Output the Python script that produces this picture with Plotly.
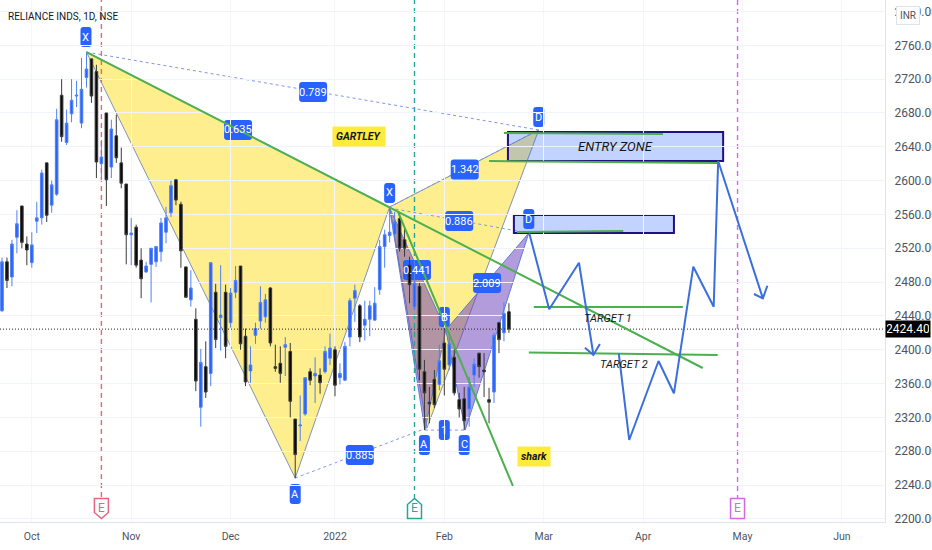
import plotly.graph_objects as go

# ---------- candles (bar index, OHLC) ----------
opens = [2446,2504,2486,2533,2570,2525,2503,2552,2556,2621,2571,2584,2701,2645,2679,2700,2668,2722,2744,2729,
         2620,2680,2616,2653,2621,2596,2536,2545,2506,2492,2501,2504,2516,2539,2562,2601,2572,2498,2459,2436,
         2332,2380,2372,2468,2438,2468,2432,2468,2499,2416,2375,2417,2434,2439,2473,2380,2384,2403,2398,2318,
         2310,2324,2374,2369,2370,2374,2390,2400,2367,2364,2415,2461,2452,2429,2436,2435,2471,2522,2535,2537,
         2555,2530,2500,2451,2475,2374,2338,2365,2359,2408,2382,2391,2341,2342,2330,2370,2396,2376,2341,2350,
         2432,2420,2445]
highs = [2509,2509,2530,2565,2570,2534,2539,2575,2613,2621,2600,2685,2720,2684,2720,2718,2745,2752,2744,2737,
         2648,2680,2672,2678,2639,2596,2556,2548,2520,2504,2520,2522,2556,2569,2600,2602,2575,2498,2494,2449,
         2401,2410,2503,2478,2500,2477,2473,2499,2499,2425,2404,2432,2475,2466,2474,2406,2404,2415,2408,2318,
         2346,2367,2378,2391,2378,2404,2419,2404,2384,2409,2461,2477,2454,2458,2458,2474,2530,2542,2568,2563,
         2563,2543,2510,2506,2479,2388,2356,2376,2406,2426,2420,2401,2349,2356,2368,2390,2396,2396,2355,2420,
         2433,2456,2455]
lows = [2445,2473,2475,2514,2520,2500,2497,2538,2548,2551,2562,2582,2646,2642,2669,2687,2662,2710,2692,2603,
        2603,2570,2603,2621,2591,2501,2500,2497,2461,2491,2456,2498,2504,2526,2557,2571,2497,2462,2451,2351,
        2309,2343,2357,2402,2399,2390,2426,2461,2400,2357,2361,2407,2425,2432,2404,2374,2361,2369,2320,2248,
        2292,2322,2358,2337,2348,2372,2382,2345,2359,2363,2404,2433,2409,2411,2416,2435,2465,2497,2527,2533,
        2516,2510,2455,2447,2364,2305,2313,2331,2352,2346,2376,2346,2320,2305,2309,2356,2367,2344,2313,2337,
        2396,2410,2420]
closes = [2504,2482,2525,2549,2527,2518,2524,2556,2609,2559,2595,2672,2652,2668,2695,2701,2708,2732,2700,2622,
          2628,2601,2661,2627,2597,2536,2538,2500,2484,2499,2520,2522,2550,2556,2594,2577,2517,2462,2473,2363,
          2385,2350,2503,2412,2441,2404,2467,2482,2407,2362,2382,2425,2456,2459,2408,2378,2372,2406,2339,2276,
          2311,2367,2364,2372,2361,2398,2402,2358,2372,2404,2458,2470,2415,2436,2452,2455,2522,2536,2539,2551,
          2520,2520,2477,2479,2377,2349,2336,2335,2387,2377,2407,2349,2330,2316,2356,2383,2380,2374,2338,2417,
          2412,2443,2424.4]
bar_index = list(range(len(closes)))
last_price = 2424.4

# ---------- axes ----------
x_tick_pos = [6, 26, 46, 67, 89, 109, 129, 149, 169]
x_tick_text = ["Oct", "Nov", "Dec", "2022", "Feb", "Mar", "Apr", "May", "Jun"]
y_ticks = list(range(2200, 2801, 40))

# ---------- harmonic patterns ----------
gartley_x = [17, 59, 78, 85.5, 108]
gartley_p = [2752, 2248.3, 2568.8, 2307.5, 2659.9]
shark_x = [78, 85.1, 89.3, 93.2, 106]
shark_p = [2567.6, 2305, 2423.4, 2305, 2538]

# ---------- ratio connectors ----------
dotted_x = [(17, 108), (59, 85.5), (85.1, 93.2), (78, 108), (78, 106)]
dotted_p = [(2752, 2659.9), (2248.3, 2307.5), (2305, 2305), (2568.8, 2659.9), (2567.6, 2538)]

# ---------- green trend and target lines ----------
green_x = [(17, 141), (79.7, 102.8), (101, 133), (98, 144), (103.6, 125), (107, 137), (106, 144)]
green_p = [(2752, 2378.4), (2562.9, 2238.9), (2656.3, 2655.1), (2623.2, 2620.8), (2539.2, 2540.4),
           (2450.5, 2450.5), (2396.6, 2393.8)]

# ---------- projected paths ----------
path1_x = [106.1, 110.1, 116.1, 119]
path1_p = [2537.7, 2447.8, 2502.9, 2393.8]
head1_x = [117.3, 119, 120.3]
head1_p = [2402.4, 2393.8, 2406.8]
path2_x = [124.1, 126.2, 132.1, 135.2, 139.1, 143.2, 144.1, 153.1]
path2_p = [2395.8, 2293.3, 2386.7, 2348.5, 2498.2, 2450.9, 2623.2, 2460.8]
head2_x = [151.3, 153.1, 154]
head2_p = [2465.9, 2460.8, 2475.7]

# ---------- zones ----------
zone_x = [(101.8, 145.1), (103, 135.2)]
zone_p = [(2657.5, 2623.2), (2559.3, 2538)]

# ---------- labels ----------
label_text = ["X", "0.789", "0.635", "X", "D", "1.342", "0.886", "D", "0.441", "2.009", "B", "A", "1", "C", "A", "0.885"]
label_x = [16.9, 62.6, 47.5, 78, 108, 93.1, 92, 106, 83.5, 97.6, 89, 85, 89, 93, 59, 72]
label_p = [2769.8, 2704.8, 2659.9, 2585.4, 2675.2, 2613.2, 2552.2, 2554.6, 2494.3, 2478.9, 2438.7, 2287.4, 2305.1, 2287.4, 2229.4, 2275.5]

note_text = ["ENTRY ZONE", "TARGET 1", "TARGET 2"]
note_x = [123.5, 122, 125.2]
note_p = [2640.9, 2437.5, 2382]
tag_text = ["GARTLEY", "shark"]
tag_x = [71.8, 107]
tag_p = [2652.2, 2273.2]

# ---------- earnings markers ----------
earn_x = [20, 83, 148]
earn_color = ["#e8637f", "#26a69a", "#d665e8"]
earn_top = [2225.8, 2223.5, 2222.3]
earn_p = 2212.3

FONT = "Liberation Sans Narrow, Roboto, sans-serif"
BLUE = "#2962ff"
Y_TOP, Y_BOT = 2813.6, 2196.3


def rounded_path(w, h, r=3):
    a, b = w / 2, h / 2
    return (f"M{-a+r},{-b} L{a-r},{-b} Q{a},{-b} {a},{-b+r} L{a},{b-r} Q{a},{b} {a-r},{b} "
            f"L{-a+r},{b} Q{-a},{b} {-a},{b-r} L{-a},{-b+r} Q{-a},{-b} {-a+r},{-b} Z")


shapes = []


def poly(xs, ps):
    return "M" + " L".join(f"{x},{p}" for x, p in zip(xs, ps)) + " Z"


for a, b, c in ((0, 1, 2), (2, 3, 4)):
    shapes.append(dict(type="path", layer="below",
                       path=poly([gartley_x[a], gartley_x[b], gartley_x[c]], [gartley_p[a], gartley_p[b], gartley_p[c]]),
                       fillcolor="rgba(253,226,60,0.58)", line=dict(color="#7f93b8", width=1)))
for a, b, c in ((0, 1, 2), (2, 3, 4)):
    shapes.append(dict(type="path", layer="below",
                       path=poly([shark_x[a], shark_x[b], shark_x[c]], [shark_p[a], shark_p[b], shark_p[c]]),
                       fillcolor="rgba(103,58,183,0.5)", line=dict(color="#5c7bd8", width=1)))
for xs, ps in zip(dotted_x, dotted_p):
    shapes.append(dict(type="line", layer="below", x0=xs[0], x1=xs[1], y0=ps[0], y1=ps[1],
                       line=dict(color="#8496e6", width=1, dash="dot")))
for x, top, col in zip(earn_x, earn_top, earn_color):
    shapes.append(dict(type="line", layer="below", x0=x, x1=x, y0=top, y1=Y_TOP,
                       line=dict(color=col, width=1.4, dash="5px,4px")))
for t, x, p in zip(label_text, label_x, label_p):
    w = 28 if len(t) > 1 else 11
    shapes.append(dict(type="path", layer="below", xsizemode="pixel", ysizemode="pixel",
                       xanchor=x, yanchor=p, path=rounded_path(w, 20), fillcolor=BLUE, line=dict(width=0)))
for xs, ps in zip(zone_x, zone_p):
    shapes.append(dict(type="rect", layer="below", x0=xs[0], x1=xs[1], y0=ps[0], y1=ps[1],
                       fillcolor="rgba(41,98,255,0.28)", line=dict(color="#23107f", width=2)))
shield_paths = ["M-7,10 L7,10 L7,-4 L0,-10 L-7,-4 Z", "M-7,-10 L7,-10 L7,4 L0,10 L-7,4 Z", "M-7,10 L7,10 L7,-10 L-7,-10 Z"]
for x, col, path in zip(earn_x, earn_color, shield_paths):
    shapes.append(dict(type="path", layer="above", xsizemode="pixel", ysizemode="pixel", xanchor=x, yanchor=earn_p,
                       path=path, fillcolor="white", line=dict(color=col, width=1.5)))

fig = go.Figure()
fig.add_trace(go.Candlestick(
    x=bar_index, open=opens, high=highs, low=lows, close=closes,
    increasing=dict(line=dict(color="#4f80f5", width=1), fillcolor=BLUE),
    decreasing=dict(line=dict(color="#3a3a3a", width=1), fillcolor="#0a0a0a"),
    whiskerwidth=0, showlegend=False, hoverinfo="skip"))
fig.add_trace(go.Scatter(x=[bar_index[0] - 1, 177.7], y=[last_price, last_price], mode="lines",
                         line=dict(color="#222", width=1, dash="1px,2px"), showlegend=False, hoverinfo="skip"))
for xs, ps in zip(green_x, green_p):
    fig.add_trace(go.Scatter(x=list(xs), y=list(ps), mode="lines", line=dict(color="#4caf50", width=2),
                             showlegend=False, hoverinfo="skip"))
for xs, ps in ((path1_x, path1_p), (head1_x, head1_p), (path2_x, path2_p), (head2_x, head2_p)):
    fig.add_trace(go.Scatter(x=xs, y=ps, mode="lines", line=dict(color="#3a6fdc", width=2),
                             showlegend=False, hoverinfo="skip"))

ann = []
for t, x, p in zip(label_text, label_x, label_p):
    ann.append(dict(x=x, y=p, text=t, showarrow=False, font=dict(family=FONT, size=11, color="white")))
for t, x, p in zip(note_text, note_x, note_p):
    size = 13 if t.startswith("ENTRY") else 11
    ann.append(dict(x=x, y=p, text=t, showarrow=False,
                    font=dict(family=FONT, size=size, color="#131722", style="italic")))
for t, x, p in zip(tag_text, tag_x, tag_p):
    ann.append(dict(x=x, y=p, text=t, showarrow=False, bgcolor="#ffeb3b", borderpad=3,
                    font=dict(family=FONT, size=10.5, color="#131722", style="italic", weight="bold")))
for x, col in zip(earn_x, earn_color):
    ann.append(dict(x=x, y=earn_p, text="E", showarrow=False, font=dict(family=FONT, size=12, color=col)))
ann.append(dict(xref="paper", yref="paper", x=0.0068, y=0.969, xanchor="left", yanchor="middle", showarrow=False,
                text="RELIANCE INDS, 1D, NSE", font=dict(family=FONT, size=10, color="#131722")))
ann.append(dict(xref="paper", x=1.0, xanchor="left", y=last_price, showarrow=False, text="2424.40", width=42, height=14,
                bgcolor="#000000", font=dict(family=FONT, size=12, color="white")))
ann.append(dict(xref="paper", x=1.026, xanchor="center", y=2794.7, showarrow=False, text="INR", bgcolor="white",
                bordercolor="#e0e3eb", borderwidth=1, borderpad=3, font=dict(family=FONT, size=10, color="#50535e")))

fig.update_layout(
    width=932, height=550, margin=dict(l=0, r=47, t=0, b=28), autosize=False,
    paper_bgcolor="white", plot_bgcolor="white", boxgap=0.25, showlegend=False,
    shapes=shapes, annotations=ann,
    xaxis=dict(range=[-0.4, 177.67], tickmode="array", tickvals=x_tick_pos, ticktext=x_tick_text, automargin=False,
               showgrid=True, gridcolor="#f5f6f9", zeroline=False, rangeslider=dict(visible=False),
               showline=True, linecolor="#e0e3eb", ticks="", ticklabelstandoff=4,
               tickfont=dict(family=FONT, size=10.5, color="#50535e")),
    yaxis=dict(range=[Y_BOT, Y_TOP], side="right", tickmode="array", tickvals=y_ticks, tickformat=".2f", automargin=False,
               showgrid=True, gridcolor="#f0f3fa", zeroline=False, showline=True, linecolor="#e0e3eb", ticks="",
               ticklabelstandoff=6, tickfont=dict(family=FONT, size=12, color="#50535e")),
)

fig.write_html("out.html", config=dict(displayModeBar=False),
               post_script="document.body.style.margin='0';document.documentElement.style.overflow='hidden';")
